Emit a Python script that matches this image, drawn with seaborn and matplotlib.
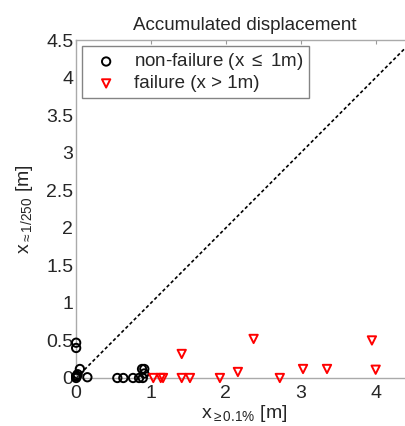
#!/usr/bin/env python3
"""Accumulated displacement scatter."""
import matplotlib
matplotlib.use("Agg")
import matplotlib.pyplot as plt
import seaborn as sns

# non-failure points (x <= 1 m)
nf_x = [0.0, 0.0, 0.0, 0.0, 0.01, 0.02, 0.05, 0.15, 0.55, 0.63, 0.76, 0.84, 0.89, 0.88, 0.91, 0.91]
nf_y = [0.47, 0.40, 0.0, 0.02, 0.03, 0.05, 0.12, 0.01, 0.0, 0.0, 0.0, 0.0, 0.0, 0.12, 0.12, 0.06]

# failure points (x > 1 m)
f_x = [1.03, 1.13, 1.16, 1.41, 1.52, 1.41, 1.92, 2.16, 2.37, 2.72, 3.03, 3.35, 3.95, 4.0]
f_y = [0.0, 0.0, 0.0, 0.0, 0.0, 0.32, 0.0, 0.08, 0.52, 0.0, 0.12, 0.12, 0.50, 0.11]

diag = [0, 4.5]
xticks = [0, 1, 2, 3, 4]
yticks = [0, 0.5, 1, 1.5, 2, 2.5, 3, 3.5, 4, 4.5]
ytick_labels = ["0", "0.5", "1", "1.5", "2", "2.5", "3", "3.5", "4", "4.5"]

sns.set_style("white")
plt.rcParams["font.family"] = ["Liberation Sans", "DejaVu Sans"]
plt.rcParams["mathtext.fontset"] = "custom"
plt.rcParams["mathtext.rm"] = "Liberation Sans"
plt.rcParams["mathtext.it"] = "Liberation Sans"

fig = plt.figure(figsize=(4.05, 4.26), dpi=100)
# axes runs a little past the right edge, as in the cropped original
ax = fig.add_axes([0.188, 0.1127, 0.832, 0.793])

ax.plot(diag, diag, color="black", linestyle=(0, (2, 1.5)), linewidth=1.2, zorder=1)

sns.scatterplot(x=nf_x, y=nf_y, ax=ax, marker="o", s=36, facecolors="none",
                edgecolor="black", linewidth=1.4, label=r"non-failure (x $\leq$ 1m)",
                clip_on=False, zorder=3)
sns.scatterplot(x=f_x, y=f_y, ax=ax, marker="v", s=36, facecolors="none",
                edgecolor="red", linewidth=1.4, label="failure (x > 1m)",
                clip_on=False, zorder=3)

ax.set_xlim(0, 4.5)
ax.set_ylim(0, 4.5)
ax.set_xticks(xticks)
ax.set_yticks(yticks)
ax.set_yticklabels(ytick_labels)
ax.tick_params(direction="in", length=3, color="#999999", labelsize=14,
               top=True, right=True, pad=2)
ax.tick_params(axis="x", pad=5)
for sp in ax.spines.values():
    sp.set_color("#aaaaaa")
    sp.set_linewidth(1.0)

ax.set_title("Accumulated displacement", fontsize=13.5, pad=7)
ax.set_xlabel(r"x$_{\geq 0.1\%}$ [m]", fontsize=14, labelpad=1)
ax.set_ylabel(r"x$_{\approx 1/250}$ [m]", fontsize=14, labelpad=8)

leg = ax.legend(loc="upper left", fontsize=13.5, frameon=True, fancybox=False,
                handletextpad=0.5, borderaxespad=0.3, labelspacing=0.15,
                borderpad=0.3, bbox_to_anchor=(0.0, 1.0))
leg.get_frame().set_edgecolor("#666666")
leg.get_frame().set_linewidth(1.0)

fig.savefig("out.png", dpi=100)
